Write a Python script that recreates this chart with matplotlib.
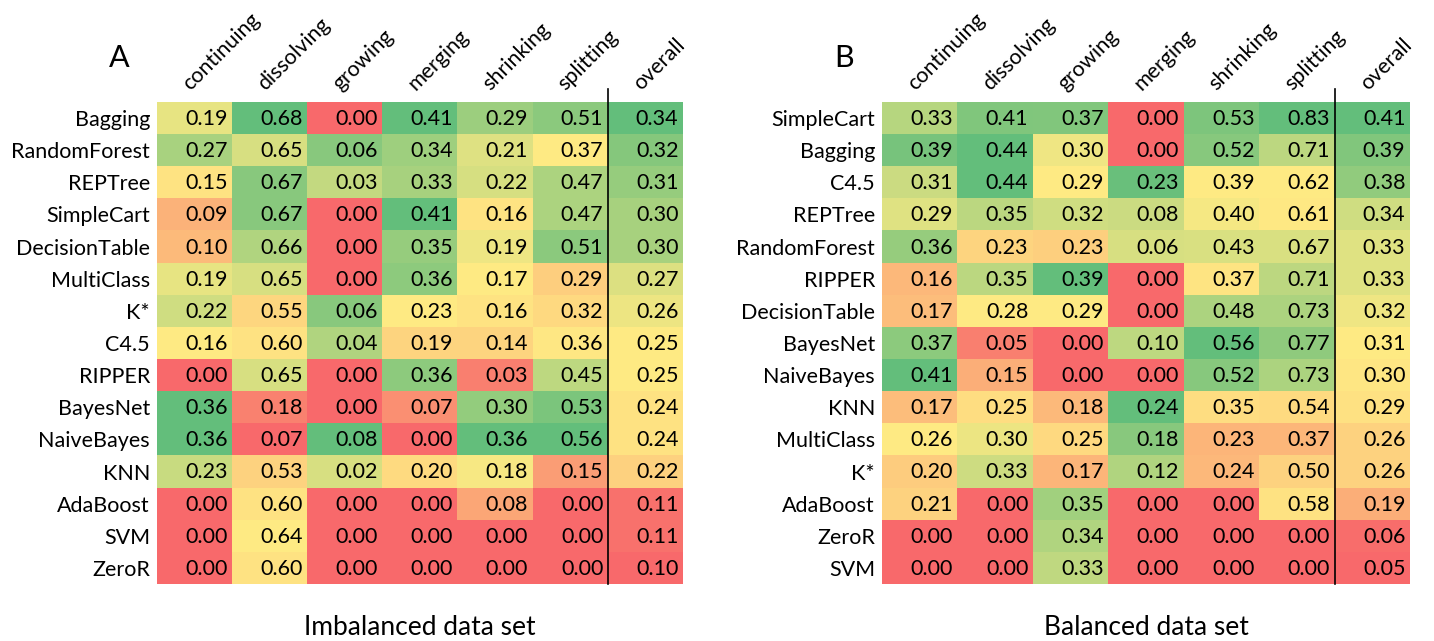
import numpy as np
import matplotlib
matplotlib.use("Agg")
import matplotlib.pyplot as plt
from matplotlib.colors import LinearSegmentedColormap

plt.rcParams['font.family'] = ['Lato', 'DejaVu Sans']

columns = ['continuing', 'dissolving', 'growing', 'merging', 'shrinking', 'splitting', 'overall']

rows_a = ['Bagging', 'RandomForest', 'REPTree', 'SimpleCart', 'DecisionTable', 'MultiClass', 'K*',
          'C4.5', 'RIPPER', 'BayesNet', 'NaiveBayes', 'KNN', 'AdaBoost', 'SVM', 'ZeroR']
vals_a = [
    [0.19, 0.68, 0.00, 0.41, 0.29, 0.51, 0.34],
    [0.27, 0.65, 0.06, 0.34, 0.21, 0.37, 0.32],
    [0.15, 0.67, 0.03, 0.33, 0.22, 0.47, 0.31],
    [0.09, 0.67, 0.00, 0.41, 0.16, 0.47, 0.30],
    [0.10, 0.66, 0.00, 0.35, 0.19, 0.51, 0.30],
    [0.19, 0.65, 0.00, 0.36, 0.17, 0.29, 0.27],
    [0.22, 0.55, 0.06, 0.23, 0.16, 0.32, 0.26],
    [0.16, 0.60, 0.04, 0.19, 0.14, 0.36, 0.25],
    [0.00, 0.65, 0.00, 0.36, 0.03, 0.45, 0.25],
    [0.36, 0.18, 0.00, 0.07, 0.30, 0.53, 0.24],
    [0.36, 0.07, 0.08, 0.00, 0.36, 0.56, 0.24],
    [0.23, 0.53, 0.02, 0.20, 0.18, 0.15, 0.22],
    [0.00, 0.60, 0.00, 0.00, 0.08, 0.00, 0.11],
    [0.00, 0.64, 0.00, 0.00, 0.00, 0.00, 0.11],
    [0.00, 0.60, 0.00, 0.00, 0.00, 0.00, 0.10],
]

rows_b = ['SimpleCart', 'Bagging', 'C4.5', 'REPTree', 'RandomForest', 'RIPPER', 'DecisionTable',
          'BayesNet', 'NaiveBayes', 'KNN', 'MultiClass', 'K*', 'AdaBoost', 'ZeroR', 'SVM']
vals_b = [
    [0.33, 0.41, 0.37, 0.00, 0.53, 0.83, 0.41],
    [0.39, 0.44, 0.30, 0.00, 0.52, 0.71, 0.39],
    [0.31, 0.44, 0.29, 0.23, 0.39, 0.62, 0.38],
    [0.29, 0.35, 0.32, 0.08, 0.40, 0.61, 0.34],
    [0.36, 0.23, 0.23, 0.06, 0.43, 0.67, 0.33],
    [0.16, 0.35, 0.39, 0.00, 0.37, 0.71, 0.33],
    [0.17, 0.28, 0.29, 0.00, 0.48, 0.73, 0.32],
    [0.37, 0.05, 0.00, 0.10, 0.56, 0.77, 0.31],
    [0.41, 0.15, 0.00, 0.00, 0.52, 0.73, 0.30],
    [0.17, 0.25, 0.18, 0.24, 0.35, 0.54, 0.29],
    [0.26, 0.30, 0.25, 0.18, 0.23, 0.37, 0.26],
    [0.20, 0.33, 0.17, 0.12, 0.24, 0.50, 0.26],
    [0.21, 0.00, 0.35, 0.00, 0.00, 0.58, 0.19],
    [0.00, 0.00, 0.34, 0.00, 0.00, 0.00, 0.06],
    [0.00, 0.00, 0.33, 0.00, 0.00, 0.00, 0.05],
]

# excel style 3 colour scale: red - yellow - green, min / median / max per column
cmap = LinearSegmentedColormap.from_list('ryg', ['#F8696B', '#FFEB84', '#63BE7B'])


def scale_cols(data):
    data = np.array(data)
    out = np.zeros_like(data)
    for j in range(data.shape[1]):
        col = data[:, j]
        lo, mid, hi = col.min(), np.median(col), col.max()
        for i, v in enumerate(col):
            if v <= lo:
                t = 0.0
            elif v <= mid:
                t = 0.5 * (v - lo) / (mid - lo)
            else:
                t = 0.5 + 0.5 * (v - mid) / (hi - mid)
            out[i, j] = t
    return data, out


def draw_panel(ax, rows, vals, letter, caption):
    data, t = scale_cols(vals)
    ax.imshow(cmap(t), aspect='auto', interpolation='nearest')
    nr, nc = data.shape
    for i in range(nr):
        for j in range(nc):
            ax.text(j + 0.44, i + 0.03, f'{data[i, j]:.2f}', ha='right', va='center',
                    fontsize=15.5, color='black')
    ax.set_yticks(range(nr))
    ax.set_yticklabels(rows, fontsize=15.5)
    ax.set_xticks([])
    ax.tick_params(axis='y', length=0, pad=5)
    for s in ax.spines.values():
        s.set_visible(False)
    for j, c in enumerate(columns):
        ax.text(j - 0.06, -0.85, c, rotation=45, rotation_mode='anchor',
                ha='left', va='baseline', fontsize=15.5)
    ax.plot([nc - 1.5, nc - 1.5], [nr - 0.5, -0.9], color='black', lw=1.2, clip_on=False)
    ax.text(-1.0, -1.87, letter, fontsize=22, ha='center', va='center')
    ax.text(0.5, -0.065, caption, fontsize=19, ha='center', va='top', transform=ax.transAxes)
    ax.set_xlim(-0.5, nc - 0.5)
    ax.set_ylim(nr - 0.5, -0.5)


fig = plt.figure(figsize=(14.34, 6.41), dpi=100)
ax_a = fig.add_axes([157 / 1434, 1 - 584 / 641, 526 / 1434, 482 / 641])
ax_b = fig.add_axes([882 / 1434, 1 - 584 / 641, 528 / 1434, 482 / 641])

draw_panel(ax_a, rows_a, vals_a, 'A', 'Imbalanced data set')
draw_panel(ax_b, rows_b, vals_b, 'B', 'Balanced data set')

fig.savefig('out.png', dpi=100)
